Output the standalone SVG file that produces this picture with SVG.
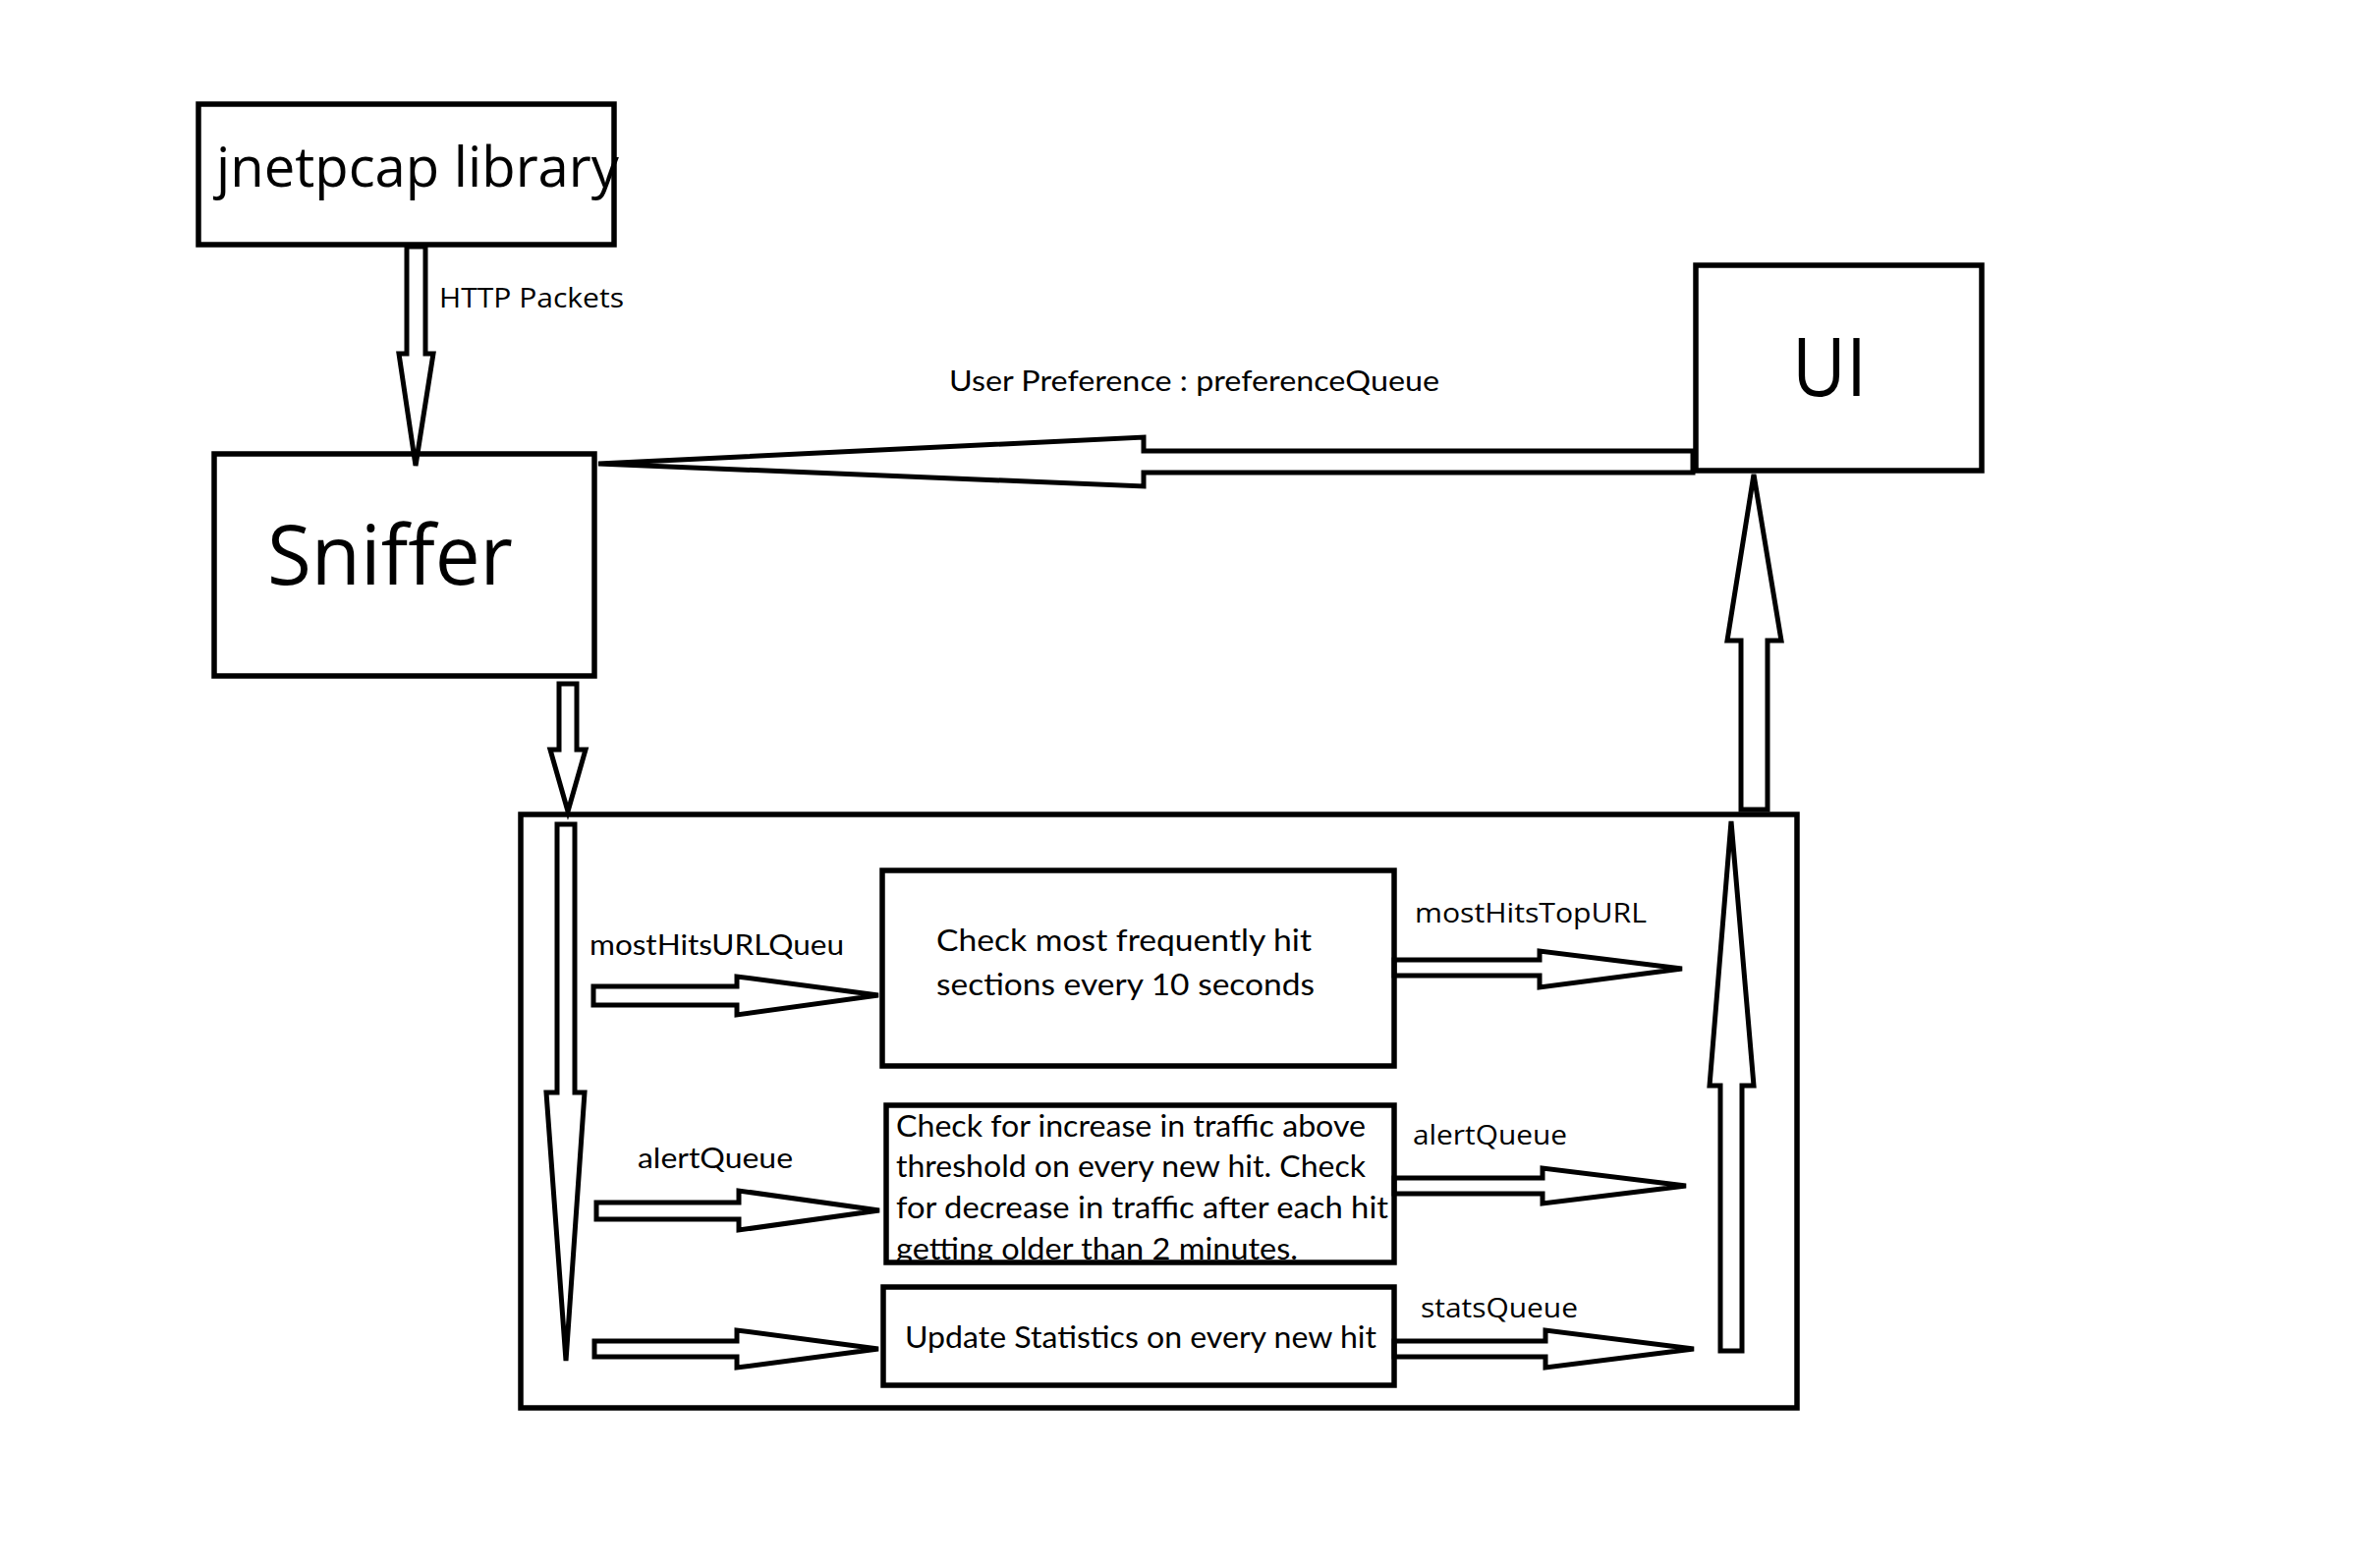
<svg xmlns="http://www.w3.org/2000/svg" width="2400" height="1596" viewBox="0 0 2400 1596">
<style>
.box{fill:none;stroke:#000;stroke-width:5.5}
.arr{fill:#fff;stroke:#000;stroke-width:5;stroke-linejoin:miter}
.c{font-family:Lato,"Open Sans","Liberation Sans",sans-serif;fill:#000}
.s{font-family:"Open Sans","Noto Sans","Liberation Sans",sans-serif;fill:#000}
</style>
<rect width="2400" height="1596" fill="#fff"/>
<g id="connectors">
<polygon class="arr" points="414,251 414,360 406,360 423,474 441,360 433,360 433,251"/>
<polygon class="arr" points="569,696 587,696 587,763 596,763 578,826 560,763 569,763"/>
<polygon class="arr" points="1723,459 1164,459 1164,445 609,472 1164,495 1164,481 1723,481"/>
<polygon class="arr" points="1785,483 1813,652 1799,652 1799,824 1772,824 1772,652 1758,652"/>
<polygon class="arr" points="567,839 585,839 585,1112 595,1112 576,1385 556,1112 567,1112"/>
<polygon class="arr" points="604,1004 750,1004 750,994 894,1013 750,1033 750,1023 604,1023"/>
<polygon class="arr" points="607,1224 752,1224 752,1212 895,1232 752,1252 752,1241 607,1241"/>
<polygon class="arr" points="605,1365 750,1365 750,1354 894,1373 750,1392 750,1381 605,1381"/>
<polygon class="arr" points="1419,977 1567,977 1567,968 1712,986 1567,1005 1567,993 1419,993"/>
<polygon class="arr" points="1419,1199 1570,1199 1570,1189 1716,1207 1570,1225 1570,1215 1419,1215"/>
<polygon class="arr" points="1419,1365 1573,1365 1573,1354 1724,1373 1573,1392 1573,1381 1419,1381"/>
<polygon class="arr" points="1762,836 1785,1105 1773,1105 1773,1375 1751,1375 1751,1105 1740,1105"/>
<text class="s" x="447" y="313" font-size="28" textLength="188" lengthAdjust="spacingAndGlyphs">HTTP Packets</text>
<text class="c" x="966" y="398" font-size="29" textLength="499" lengthAdjust="spacingAndGlyphs">User Preference : preferenceQueue</text>
<text class="c" x="600" y="972" font-size="29" textLength="259" lengthAdjust="spacingAndGlyphs">mostHitsURLQueu</text>
<text class="c" x="649" y="1189" font-size="29" textLength="158" lengthAdjust="spacingAndGlyphs">alertQueue</text>
<text class="s" x="1440" y="939" font-size="27" textLength="236" lengthAdjust="spacingAndGlyphs">mostHitsTopURL</text>
<text class="s" x="1438" y="1165" font-size="27" textLength="157" lengthAdjust="spacingAndGlyphs">alertQueue</text>
<text class="s" x="1446" y="1341" font-size="27" textLength="160" lengthAdjust="spacingAndGlyphs">statsQueue</text>
</g>
<g id="jnetpcap">
<text class="s" x="220" y="190" font-size="56" textLength="410" lengthAdjust="spacingAndGlyphs">jnetpcap library</text>
<rect class="box" x="202" y="106" width="423" height="143"/>
</g>
<g id="sniffer">
<rect class="box" x="218" y="462" width="387" height="226"/>
<text class="s" x="272" y="595" font-size="84" textLength="250" lengthAdjust="spacingAndGlyphs">Sniffer</text>
</g>
<g id="ui">
<rect class="box" x="1726" y="270" width="291" height="209"/>
<text class="s" x="1824" y="403" font-size="82" textLength="76" lengthAdjust="spacingAndGlyphs">UI</text>
</g>
<g id="container">
<rect class="box" x="530" y="829" width="1299" height="604"/>
</g>
<g id="mostHits">
<rect class="box" x="898" y="886" width="521" height="199"/>
<text class="c" x="953" y="968" font-size="30" textLength="382" lengthAdjust="spacingAndGlyphs">Check most frequently hit</text>
<text class="c" x="953" y="1013" font-size="30" textLength="385" lengthAdjust="spacingAndGlyphs">sections every 10 seconds</text>
</g>
<g id="alert">
<text class="c" x="912" y="1157" font-size="30" textLength="478" lengthAdjust="spacingAndGlyphs">Check for increase in traffic above</text>
<text class="c" x="912" y="1198" font-size="30" textLength="478" lengthAdjust="spacingAndGlyphs">threshold on every new hit. Check</text>
<text class="c" x="912" y="1240" font-size="30" textLength="501" lengthAdjust="spacingAndGlyphs">for decrease in traffic after each hit</text>
<text class="c" x="912" y="1282" font-size="30" textLength="409" lengthAdjust="spacingAndGlyphs">getting older than 2 minutes.</text>
<rect x="896" y="1289" width="530" height="3" fill="#fff"/>
<rect class="box" x="902" y="1125" width="517" height="160"/>
</g>
<g id="stats">
<rect class="box" x="899" y="1310" width="520" height="100"/>
<text class="c" x="921" y="1372" font-size="30" textLength="480" lengthAdjust="spacingAndGlyphs">Update Statistics on every new hit</text>
</g>
</svg>
